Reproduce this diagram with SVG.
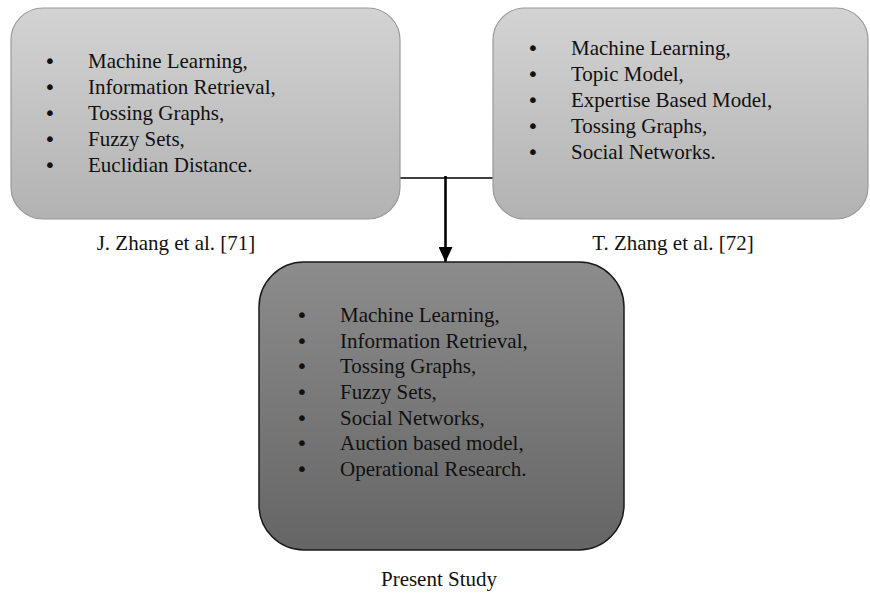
<svg xmlns="http://www.w3.org/2000/svg" width="870" height="595" viewBox="0 0 870 595">
<defs>
<linearGradient id="gLight" x1="0" y1="0" x2="0" y2="1">
<stop offset="0" stop-color="#d3d3d3"/>
<stop offset="1" stop-color="#b2b2b2"/>
</linearGradient>
<linearGradient id="gDark" x1="0" y1="0" x2="0" y2="1">
<stop offset="0" stop-color="#8c8c8c"/>
<stop offset="1" stop-color="#656565"/>
</linearGradient>
<marker id="arrow" markerWidth="15" markerHeight="14" refX="15" refY="7" orient="auto" markerUnits="userSpaceOnUse" viewBox="0 0 15 14">
<path d="M0,0 L15,7 L0,14 Z" fill="#000"/>
</marker>
</defs>
<style>
text { font-family: "Liberation Serif", "Times New Roman", serif; font-size: 21px; fill: #111; }
.b { font-family: "DejaVu Sans", sans-serif; font-size: 20px; }
.light { fill: url(#gLight); stroke: #9a9a9a; stroke-width: 1.2; }
.dark { fill: url(#gDark); stroke: #1a1a1a; stroke-width: 1.5; }
.lbl { text-anchor: middle; font-size: 21px; }
.conn { stroke: #000; fill: none; }
</style>
<rect width="870" height="595" fill="#fff"/>
<g id="connectors">
<line class="conn" x1="400" y1="178" x2="494" y2="178" stroke-width="1.5"/>
<line class="conn" x1="445.5" y1="176" x2="445.5" y2="262" stroke-width="2.6" marker-end="url(#arrow)"/>
</g>
<g id="node-jzhang">
<rect class="light" x="11" y="8" width="389" height="211" rx="32" ry="32"/>
<text x="44" y="68"><tspan class="b">•</tspan><tspan x="88">Machine Learning,</tspan></text>
<text x="44" y="94"><tspan class="b">•</tspan><tspan x="88">Information Retrieval,</tspan></text>
<text x="44" y="120"><tspan class="b">•</tspan><tspan x="88">Tossing Graphs,</tspan></text>
<text x="44" y="146"><tspan class="b">•</tspan><tspan x="88">Fuzzy Sets,</tspan></text>
<text x="44" y="172"><tspan class="b">•</tspan><tspan x="88">Euclidian Distance.</tspan></text>
<text class="lbl" x="176" y="250">J. Zhang et al. [71]</text>
</g>
<g id="node-tzhang">
<rect class="light" x="493" y="8" width="375" height="211" rx="32" ry="32"/>
<text x="527" y="55"><tspan class="b">•</tspan><tspan x="571">Machine Learning,</tspan></text>
<text x="527" y="81"><tspan class="b">•</tspan><tspan x="571">Topic Model,</tspan></text>
<text x="527" y="107"><tspan class="b">•</tspan><tspan x="571">Expertise Based Model,</tspan></text>
<text x="527" y="133"><tspan class="b">•</tspan><tspan x="571">Tossing Graphs,</tspan></text>
<text x="527" y="159"><tspan class="b">•</tspan><tspan x="571">Social Networks.</tspan></text>
<text class="lbl" x="673" y="250">T. Zhang et al. [72]</text>
</g>
<g id="node-present">
<rect class="dark" x="259" y="262" width="365" height="288" rx="45" ry="45"/>
<text x="296" y="322"><tspan class="b">•</tspan><tspan x="340">Machine Learning,</tspan></text>
<text x="296" y="348"><tspan class="b">•</tspan><tspan x="340">Information Retrieval,</tspan></text>
<text x="296" y="373"><tspan class="b">•</tspan><tspan x="340">Tossing Graphs,</tspan></text>
<text x="296" y="399"><tspan class="b">•</tspan><tspan x="340">Fuzzy Sets,</tspan></text>
<text x="296" y="425"><tspan class="b">•</tspan><tspan x="340">Social Networks,</tspan></text>
<text x="296" y="450"><tspan class="b">•</tspan><tspan x="340">Auction based model,</tspan></text>
<text x="296" y="476"><tspan class="b">•</tspan><tspan x="340">Operational Research.</tspan></text>
<text class="lbl" x="439" y="586">Present Study</text>
</g>
</svg>
